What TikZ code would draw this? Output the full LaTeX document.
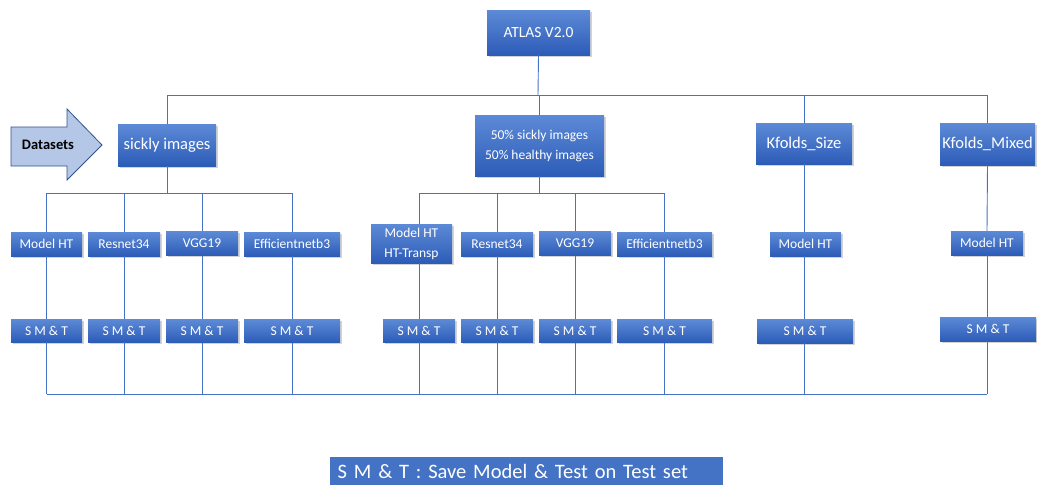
\documentclass[tikz,border=0pt]{standalone}
\usepackage{fontspec}
\setmainfont{Carlito}
\usetikzlibrary{shadows}
\definecolor{linkblue}{HTML}{4472C4}
\definecolor{boxtop}{HTML}{5D8AD6}
\definecolor{boxbot}{HTML}{2D5CB8}
\definecolor{arrowfill}{HTML}{B4C7E7}
\definecolor{arrowedge}{HTML}{2F528F}
\begin{document}
\begin{tikzpicture}[x=1pt,y=-1pt,
  link/.style={draw=linkblue,line width=0.9pt},
  box/.style={inner sep=0pt,top color=boxtop,bottom color=boxbot,text=white,
    align=center,font=\fontsize{13.5}{20}\selectfont,
    drop shadow={opacity=0.35,shadow xshift=1.5pt,shadow yshift=-1.5pt}},
  bigbox/.style={box,font=\fontsize{16.5}{20}\selectfont},
  smt/.style={box,minimum height=23pt},
  model/.style={box,minimum height=24pt}]
\useasboundingbox (0,0) rectangle (1037,485);

% routing levels
\coordinate (bus) at (538,95);
\coordinate (busA) at (0,193);
\coordinate (busB) at (0,394);

% top level
\node[box,minimum width=103pt,minimum height=45pt,font=\fontsize{15.5}{20}\selectfont] (atlas) at (538.5,32.5) {ATLAS V2.0};

% datasets
\node[bigbox,minimum width=98pt,minimum height=42pt] (sickly) at (167,145) {sickly images};
\node[box,minimum width=129pt,minimum height=61pt] (half) at (539.5,145.5) {50\% sickly images\\50\% healthy images};
\node[bigbox,minimum width=96pt,minimum height=41pt] (size) at (804,143.5) {Kfolds\_Size};
\node[bigbox,minimum width=95pt,minimum height=42pt] (mixed) at (987.5,144) {Kfolds\_Mixed};

% datasets arrow
\draw[arrowedge,fill=arrowfill,line width=0.8pt]
  (11,127) -- (67,127) -- (67,109) -- (102,145) -- (67,180) -- (67,166) -- (11,166) -- cycle;
\node[font=\fontsize{14.5}{16}\selectfont\bfseries] (dsl) at (48,145) {Datasets};

% models, first dataset
\node[model,minimum width=71pt] (a1) at (46.5,244) {Model HT};
\node[model,minimum width=72pt] (a2) at (124,244) {Resnet34};
\node[model,minimum width=72pt] (a3) at (202,243.5) {VGG19};
\node[model,minimum width=96pt] (a4) at (292,244) {Efficientnetb3};
\node[smt,minimum width=71pt] (sa1) at (46.5,330.5) {S M \& T};
\node[smt,minimum width=72pt] (sa2) at (124,330.5) {S M \& T};
\node[smt,minimum width=72pt] (sa3) at (202,331) {S M \& T};
\node[smt,minimum width=96pt] (sa4) at (292,331) {S M \& T};

% models, second dataset
\node[box,minimum width=81pt,minimum height=39pt] (b1) at (411.5,243.5) {Model HT\\HT-Transp};
\node[model,minimum width=72pt] (b2) at (497,244) {Resnet34};
\node[model,minimum width=72pt] (b3) at (575,243.5) {VGG19};
\node[model,minimum width=95pt] (b4) at (664.5,244) {Efficientnetb3};
\node[smt,minimum width=72pt] (sb1) at (419,330.5) {S M \& T};
\node[smt,minimum width=72pt] (sb2) at (497,330.5) {S M \& T};
\node[smt,minimum width=72pt] (sb3) at (575,331) {S M \& T};
\node[smt,minimum width=95pt] (sb4) at (664.5,331) {S M \& T};

% models, k-fold datasets
\node[model,minimum width=71pt] (c1) at (805.5,244) {Model HT};
\node[smt,minimum width=96pt,minimum height=24pt] (sc1) at (805,331) {S M \& T};
\node[model,minimum width=72pt] (d1) at (987,243) {Model HT};
\node[smt,minimum width=96pt,minimum height=24pt] (sd1) at (988,329) {S M \& T};

% connectors: root to datasets
\draw[link] (atlas.south) -- (bus);
\draw[link] (sickly.north) -- (sickly |- bus) -- (mixed |- bus) -- (mixed.north);
\draw[link] (half.north) -- (half |- bus);
\draw[link] (size.north) -- (size |- bus);

% first dataset branch
\draw[link] (sickly.south) -- (sickly |- busA);
\draw[link] (a1.north) -- (a1 |- busA) -- (a4 |- busA) -- (a4.north);
\draw[link] (a2.north) -- (a2 |- busA);
\draw[link] (a3.north) -- (a3 |- busA);
\foreach \m in {1,...,4} \draw[link] (a\m.south) -- (sa\m.north);

% second dataset branch
\draw[link] (half.south) -- (half |- busA);
\draw[link] (sb1 |- b1.north) -- (sb1 |- busA) -- (b4 |- busA) -- (b4.north);
\draw[link] (b2.north) -- (b2 |- busA);
\draw[link] (b3.north) -- (b3 |- busA);
\draw[link] (sb1 |- b1.south) -- (sb1.north);
\foreach \m in {2,3,4} \draw[link] (b\m.south) -- (sb\m.north);

% k-fold branches
\draw[link] (size.south) -- (size |- c1.north);
\draw[link] (size |- c1.south) -- (size |- sc1.north);
\draw[link] (mixed.south) -- (d1.north);
\draw[link] (d1.south) -- (d1 |- sd1.north);

% collecting line
\foreach \s in {sa1,sa2,sa3,sa4,sb1,sb2,sb3,sb4}
  \draw[link] (\s.south) -- (\s |- busB);
\draw[link] (size |- sc1.south) -- (size |- busB);
\draw[link] (d1 |- sd1.south) -- (d1 |- busB);
\draw[link] (sa1 |- busB) -- (d1 |- busB);

% legend
\node[fill=linkblue,text=white,anchor=north west,inner sep=0pt,
  minimum width=393pt,minimum height=28pt,text width=378pt,align=left,
  font=\fontsize{20.5}{24}\selectfont] (legend) at (330,457)
  {S M \& T : Save Model \& Test on Test set};
\end{tikzpicture}
\end{document}
